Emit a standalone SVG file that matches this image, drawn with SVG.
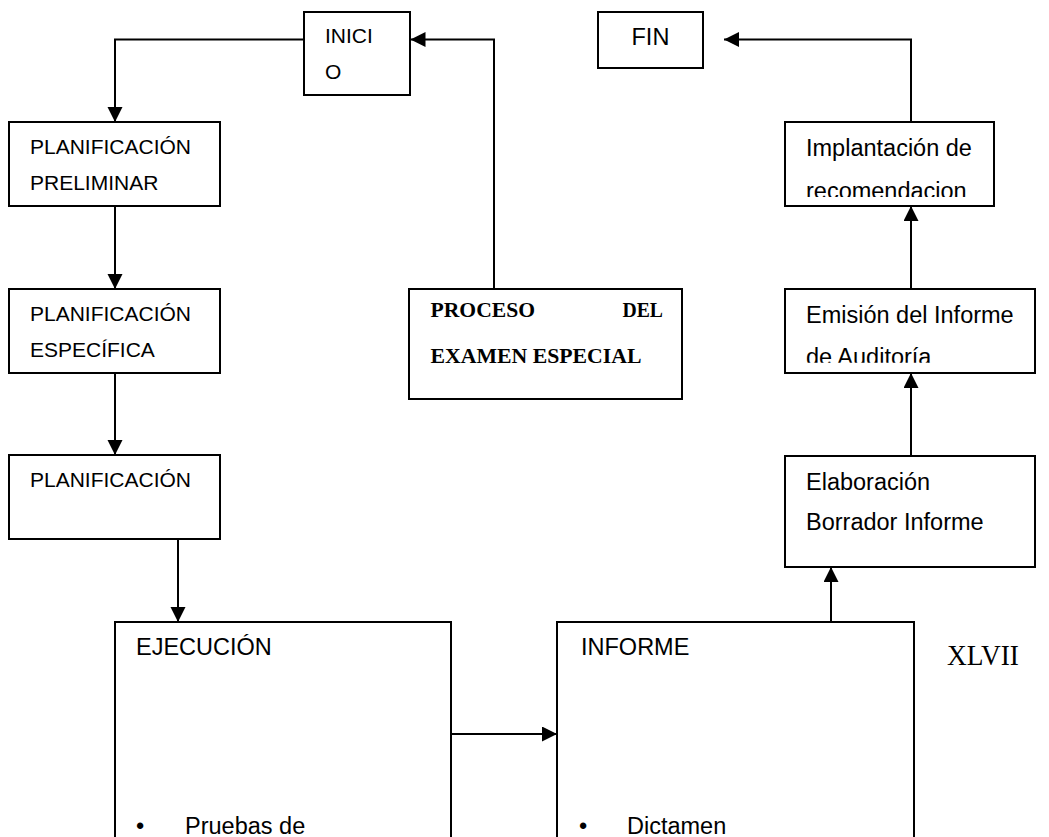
<svg xmlns="http://www.w3.org/2000/svg" width="1049" height="837" viewBox="0 0 1049 837">
<style>
.box{fill:#fff;stroke:#000;stroke-width:2}
.t{font-family:"Liberation Sans",Arial,sans-serif;font-size:23.5px;fill:#000}
.tl{font-family:"Liberation Sans",Arial,sans-serif;font-size:21px;fill:#000}
.ts{font-family:"Liberation Serif","Times New Roman",serif;fill:#000}
.c{fill:none;stroke:#000;stroke-width:2}
</style>
<defs>
<marker id="ah" markerUnits="userSpaceOnUse" markerWidth="16" markerHeight="16" refX="15" refY="7.5" orient="auto">
<path d="M0,0 L15,7.5 L0,15 Z" fill="#000"/>
</marker>
<clipPath id="clipImp"><rect x="786" y="123" width="207" height="74"/></clipPath>
<clipPath id="clipEmi"><rect x="786" y="290" width="248" height="72.7"/></clipPath>
</defs>
<rect width="1049" height="837" fill="#fff"/>

<g id="connectors">
<path class="c" d="M304,39.5 H115 V122" marker-end="url(#ah)"/>
<path class="c" d="M115,206 V289" marker-end="url(#ah)"/>
<path class="c" d="M115,373 V455" marker-end="url(#ah)"/>
<path class="c" d="M178,539 V622" marker-end="url(#ah)"/>
<path class="c" d="M494,289 V39.5 H410.5" marker-end="url(#ah)"/>
<path class="c" d="M451,734 H557" marker-end="url(#ah)"/>
<path class="c" d="M831,622 V567" marker-end="url(#ah)"/>
<path class="c" d="M911,456 V373" marker-end="url(#ah)"/>
<path class="c" d="M911,289 V206" marker-end="url(#ah)"/>
<path class="c" d="M911,122 V39.5 H724" marker-end="url(#ah)"/>
</g>

<g id="inicio">
<rect class="box" x="304" y="12" width="106" height="83"/>
<text class="tl" x="325" y="42.7">INICI</text>
<text class="tl" x="325" y="79">O</text>
</g>

<g id="fin">
<rect class="box" x="598" y="12" width="105" height="56"/>
<text class="t" x="631.5" y="45">FIN</text>
</g>

<g id="plan-preliminar">
<rect class="box" x="9" y="122" width="211" height="84"/>
<text class="tl" x="30" y="153.5">PLANIFICACIÓN</text>
<text class="tl" x="30" y="190">PRELIMINAR</text>
</g>

<g id="plan-especifica">
<rect class="box" x="9" y="289" width="211" height="84"/>
<text class="tl" x="30" y="320.5">PLANIFICACIÓN</text>
<text class="tl" x="30" y="356.7">ESPECÍFICA</text>
</g>

<g id="planificacion">
<rect class="box" x="9" y="455" width="211" height="84"/>
<text class="tl" x="30" y="487">PLANIFICACIÓN</text>
</g>

<g id="proceso">
<rect class="box" x="409" y="289" width="273" height="110"/>
<text class="ts" font-weight="bold" font-size="20" x="430.5" y="317.3" textLength="104.5" lengthAdjust="spacingAndGlyphs">PROCESO</text>
<text class="ts" font-weight="bold" font-size="20" x="622.5" y="317.3" textLength="40.5" lengthAdjust="spacingAndGlyphs">DEL</text>
<text class="ts" font-weight="bold" font-size="20" x="430.5" y="363.3" textLength="211" lengthAdjust="spacingAndGlyphs">EXAMEN ESPECIAL</text>
</g>

<g id="implantacion">
<rect class="box" x="785" y="122" width="209" height="84"/>
<g clip-path="url(#clipImp)">
<text class="t" x="806" y="156">Implantación de</text>
<text class="t" x="806" y="198.5">recomendacion</text>
</g>
</g>

<g id="emision">
<rect class="box" x="785" y="289" width="250" height="84"/>
<g clip-path="url(#clipEmi)">
<text class="t" x="806" y="322.7">Emisión del Informe</text>
<text class="t" x="806" y="364.5">de Auditoría</text>
</g>
</g>

<g id="elaboracion">
<rect class="box" x="785" y="456" width="250" height="111"/>
<text class="t" x="806" y="489.5">Elaboración</text>
<text class="t" x="806" y="530">Borrador Informe</text>
</g>

<g id="ejecucion">
<rect class="box" x="115" y="622" width="336" height="240"/>
<text class="t" x="136" y="655">EJECUCIÓN</text>
<text class="t" x="136" y="834">•</text>
<text class="t" x="185" y="834">Pruebas de</text>
</g>

<g id="informe">
<rect class="box" x="557" y="622" width="357" height="240"/>
<text class="t" x="581" y="655">INFORME</text>
<text class="t" x="579" y="834">•</text>
<text class="t" x="627" y="834">Dictamen</text>
</g>

<text class="ts" font-size="29" x="947" y="665" textLength="72" lengthAdjust="spacingAndGlyphs">XLVII</text>
</svg>
